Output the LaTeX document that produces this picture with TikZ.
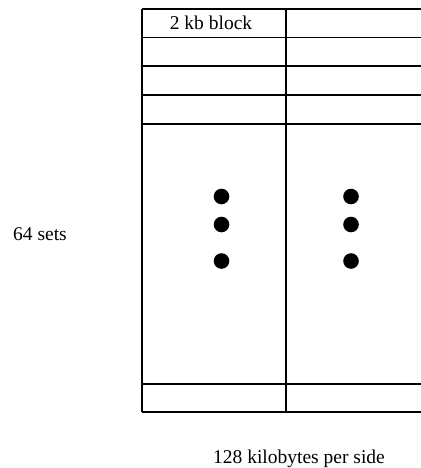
\documentclass[tikz,border=0pt]{standalone}
\usepackage{fontspec}
\setmainfont{Liberation Serif}
\begin{document}
\begin{tikzpicture}[x=1pt,y=-1pt,
  gridline/.style={line width=1.3pt,black},
  lbl/.style={inner sep=0pt,font=\fontsize{19.5}{23}\selectfont},
  dotmark/.style={fill=black,draw=none}]
\useasboundingbox (0,0) rectangle (420,468);
% horizontal lines
\foreach \yy in {9,37.5,66,95,124,384,412}
  \draw[gridline] (142,\yy) -- (421,\yy);
% vertical lines
\draw[gridline] (142,9) -- (142,412);
\draw[gridline] (286,9) -- (286,412);
% dots
\foreach \xx in {221.5,351}
  \foreach \yy in {196.5,224.5,261}
    \fill[dotmark] (\xx,\yy) circle (7.8);
% labels
\node[lbl,anchor=base] (blk) at (211,30) {2 kb block};
\node[lbl,anchor=base west] (sets) at (13,240) {64 sets};
\node[lbl,anchor=base] (side) at (299,463) {128 kilobytes per side};
\end{tikzpicture}
\end{document}
